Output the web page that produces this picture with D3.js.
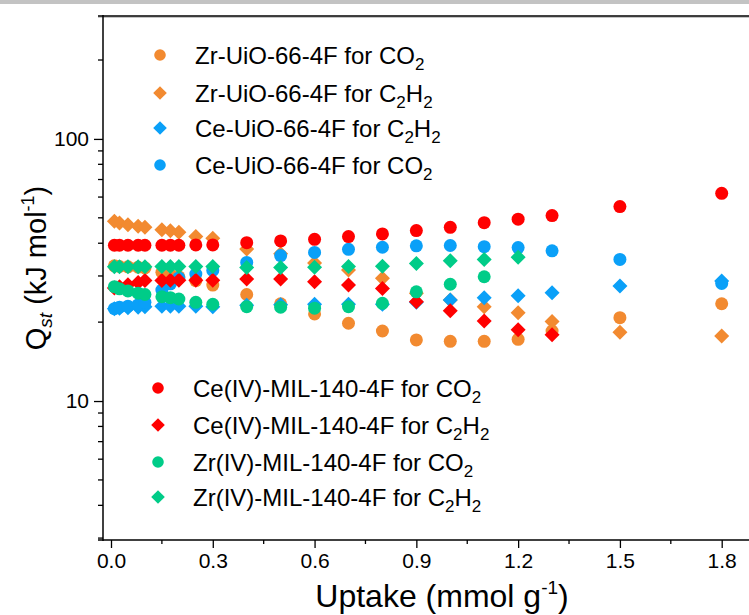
<!DOCTYPE html>
<html><head><meta charset="utf-8">
<script src="https://cdn.jsdelivr.net/npm/d3@7/dist/d3.min.js"></script>
<style>body{margin:0;background:#fff}svg{display:block}text{font-family:Arial,"Liberation Sans",sans-serif;fill:#000}</style>
</head><body><svg id="c" width="749" height="615"></svg>
<script>
const uptake = [0.01,0.025,0.05,0.08,0.1,0.15,0.175,0.2,0.25,0.3,0.4,0.5,0.6,0.7,0.8,0.9,1.0,1.1,1.2,1.3,1.5,1.8];
const zrUioCO2  = [32.8,32.6,32.5,32.4,32.2,31,30.3,29.8,28.8,27.7,25.5,23.5,21.5,19.8,18.5,17.1,16.9,16.9,17.2,18.5,20.8,23.5];
const zrUioC2H2 = [48.5,47.8,47,46.4,46,45,44.6,44,42.4,41.8,38,36.5,33.6,31.6,29.4,25.8,24.3,22.9,21.7,20.1,18.3,17.7];
const ceUioC2H2 = [22.5,22.6,22.7,22.8,22.9,23,23,23,23,22.9,23.2,23.3,23.4,23.4,23.4,23.8,24.3,24.8,25.2,25.9,27.5,28.7];
const ceUioCO2  = [22.5,22.8,23,23.3,23.8,26.5,28,29.5,30.5,31.5,33.8,35.9,36.9,37.9,38.6,39.1,39.2,38.8,38.5,37.4,34.7,28.1];
const ceMilCO2  = [39.3,39.3,39.3,39.3,39.3,39.3,39.3,39.3,39.4,39.4,40.2,40.8,41.4,42.4,43.4,44.7,46.0,47.9,49.4,51.0,55.2,62.0];
const ceMilC2H2 = [27.0,27.3,27.8,28.3,28.8,28.8,28.9,28.9,28.9,28.9,29.2,29.2,28.5,27.7,26.9,23.9,22.1,20.2,18.7,17.9,null,null];
const zrMilCO2  = [27.3,26.8,26.3,25.8,25.5,25,24.8,24.5,23.8,23.4,22.9,22.8,22.6,22.9,23.6,26.1,27.9,29.8,null,null,null,null];
const zrMilC2H2 = [32.5,32.5,32.5,32.5,32.5,32.6,32.6,32.6,32.6,32.6,32.3,32.3,32.4,32.6,32.7,33.5,34.3,34.7,35.4,null,null,null];

const seriesNames = ["Zr-UiO-66-4F for ","Zr-UiO-66-4F for ","Ce-UiO-66-4F for ","Ce-UiO-66-4F for ",
  "Ce(IV)-MIL-140-4F for ","Ce(IV)-MIL-140-4F for ","Zr(IV)-MIL-140-4F for ","Zr(IV)-MIL-140-4F for "];
const seriesGas = ["CO2","C2H2","C2H2","CO2","CO2","C2H2","CO2","C2H2"];
const seriesColors = ["#F28A30","#F28A30","#0AA0F8","#0AA0F8","#FF0000","#FF0000","#00CC88","#00CC88"];
const seriesShapes = ["circle","diamond","diamond","circle","circle","diamond","circle","diamond"];
const seriesValues = [zrUioCO2,zrUioC2H2,ceUioC2H2,ceUioCO2,ceMilCO2,ceMilC2H2,zrMilCO2,zrMilC2H2];
const xTicks = [0,0.3,0.6,0.9,1.2,1.5,1.8];
const yTickLabels = [10,100];

const svg = d3.select("#c");
const L=103, T=16, B=540;
const x = d3.scaleLinear().domain([0,1.8]).range([111,721.7]);
const y = d3.scaleLog().domain([2.95,297]).range([B,15]);

svg.append("rect").attr("x",0).attr("y",0).attr("width",749).attr("height",4).attr("fill","#c3c3c3");

function diamondPath(r){return `M0,${-r}L${r},0L0,${r}L${-r},0Z`;}
const circlePath = r => d3.symbol().type(d3.symbolCircle).size(Math.PI*r*r)();

const g = svg.append("g");
seriesValues.forEach((vals,i)=>{
  const pts = uptake.map((u,j)=>({u,v:vals[j]})).filter(d=>d.v!=null);
  g.selectAll(null).data(pts).enter().append("path")
    .attr("transform",d=>`translate(${x(d.u)},${y(d.v)})`)
    .attr("d", seriesShapes[i]==="circle"? circlePath(6.5) : diamondPath(7.5))
    .attr("fill",seriesColors[i]);
});

// frame
svg.append("line").attr("x1",98).attr("x2",749).attr("y1",T+1.2).attr("y2",T+1.2).attr("stroke","#aaa").attr("stroke-width",1);
svg.append("line").attr("x1",98).attr("x2",749).attr("y1",T).attr("y2",T).attr("stroke","#000").attr("stroke-width",1.3);

// axes
const xAxis = d3.axisBottom(x).tickValues(xTicks).tickFormat(d3.format(".1f")).tickSizeOuter(0).tickSize(8).tickPadding(5);
const gx = svg.append("g").attr("transform",`translate(0,${B})`).call(xAxis);
gx.select(".domain").remove();
gx.selectAll("text").attr("font-size",21).attr("font-family","Arial, Liberation Sans, sans-serif");
gx.selectAll("line").attr("stroke-width",1.3);
const xMinor = d3.range(0.15,1.9,0.3);
svg.append("g").selectAll(null).data(xMinor).enter().append("line")
  .attr("x1",d=>x(d)).attr("x2",d=>x(d)).attr("y1",B).attr("y2",B+4).attr("stroke","#000").attr("stroke-width",1.3);
svg.append("line").attr("x1",98).attr("x2",749).attr("y1",B).attr("y2",B).attr("stroke","#000").attr("stroke-width",1.5);

const yAxis = d3.axisLeft(y).tickValues(yTickLabels).tickFormat(d3.format("d")).tickSizeOuter(0).tickSize(9).tickPadding(5);
const gy = svg.append("g").attr("transform",`translate(${L},0)`).call(yAxis);
gy.select(".domain").remove();
gy.selectAll("text").attr("font-size",21).attr("font-family","Arial, Liberation Sans, sans-serif");
gy.selectAll("line").attr("stroke-width",1.3);
const yMinor = [];
[1,10,100].forEach(dec=>{for(let k=2;k<=9;k++){const v=dec*k; if(v>=3&&v<=297) yMinor.push(v);}});
svg.append("g").selectAll(null).data(yMinor).enter().append("line")
  .attr("x1",L-5).attr("x2",L).attr("y1",d=>y(d)).attr("y2",d=>y(d)).attr("stroke","#000").attr("stroke-width",1.3);
svg.append("line").attr("x1",L).attr("x2",L).attr("y1",T-1).attr("y2",B+1).attr("stroke","#000").attr("stroke-width",1.5);

// axis titles
const xt = svg.append("text").attr("x",442).attr("y",607).attr("text-anchor","middle").attr("font-size",32);
xt.append("tspan").text("Uptake (mmol g");
xt.append("tspan").attr("font-size",19).attr("dy",-13).text("-1");
xt.append("tspan").attr("dy",13).text(")");

const yt = svg.append("text").attr("transform","translate(46,268) rotate(-90)").attr("text-anchor","middle").attr("font-size",29);
yt.append("tspan").text("Q");
yt.append("tspan").attr("font-size",19).attr("font-style","italic").attr("dy",6).text("st");
yt.append("tspan").attr("dy",-6).text(" (kJ mol");
yt.append("tspan").attr("font-size",18).attr("dy",-12).text("-1");
yt.append("tspan").attr("dy",12).text(")");

// legends
function gasText(t,gas){
  const parts = gas==="CO2" ? [["CO",0],["2",1]] : [["C",0],["2",1],["H",0],["2",1]];
  let last=0;
  parts.forEach(([s,sub])=>{
    const ts=t.append("tspan").text(s);
    if(sub){ts.attr("font-size",17).attr("dy",6); last=6;} else {ts.attr("dy",-last); last=0;}
  });
}
function legend(idx, mx, tx, ys){
  idx.forEach((si,k)=>{
    const yy=ys[k];
    svg.append("path").attr("transform",`translate(${mx},${yy})`)
      .attr("d", seriesShapes[si]==="circle"? circlePath(5.8) : diamondPath(6.8))
      .attr("fill",seriesColors[si]);
    const t=svg.append("text").attr("x",tx).attr("y",yy+8.5).attr("font-size",24);
    t.append("tspan").text(seriesNames[si]);
    gasText(t,seriesGas[si]);
  });
}
legend([0,1,2,3],160,195,[55,93,128,165]);
legend([4,5,6,7],158,193,[388,425,462,497]);
</script></body></html>
